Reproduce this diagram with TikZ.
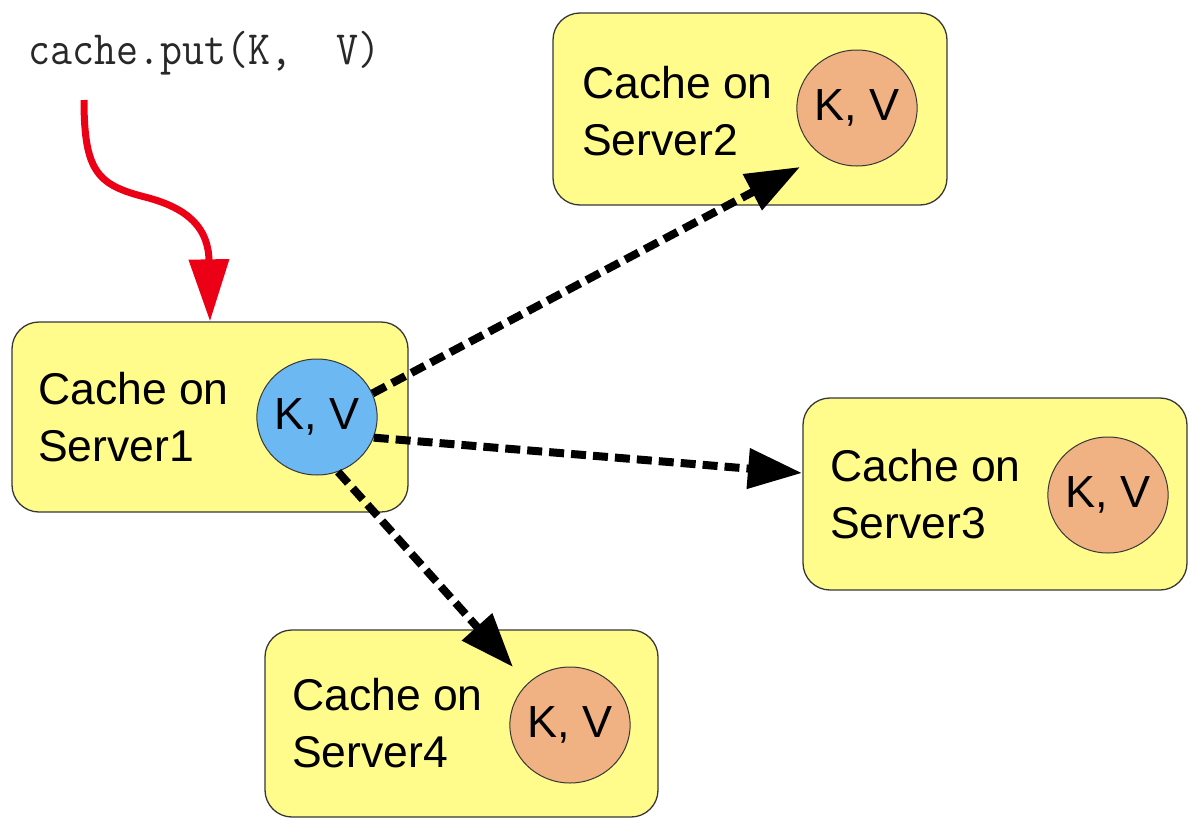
\documentclass[tikz,border=0pt]{standalone}
\usepackage{fontspec}
\setmainfont{Liberation Sans}
\usetikzlibrary{arrows.meta,shapes.geometric}
\definecolor{boxyellow}{RGB}{255,252,140}
\definecolor{kvblue}{RGB}{108,184,242}
\definecolor{kvorange}{RGB}{240,178,130}
\definecolor{putred}{RGB}{236,0,22}
\definecolor{edgegray}{RGB}{55,55,55}
\definecolor{monogray}{RGB}{40,40,40}
\begin{document}
\begin{tikzpicture}[x=1pt,y=-1pt,
  server/.style={draw=edgegray, line width=1.3pt, fill=boxyellow, rounded corners=27pt, inner sep=0pt},
  servertext/.style={anchor=west, align=left, inner sep=0pt, font=\fontsize{44.5}{57}\selectfont},
  kvnode/.style={ellipse, draw=edgegray, line width=1pt, minimum width=108pt, minimum height=116pt, inner sep=0pt, font=\fontsize{45}{54}\selectfont},
  replarrow/.style={draw=black, line width=8pt, dash pattern=on 15pt off 7pt, -{Triangle[length=54pt,width=39pt]}},
  putarrow/.style={draw=putred, line width=7pt, -{Triangle[length=62pt,width=39pt]}}
]
\useasboundingbox (0,0) rectangle (1189,819);

% code text
\node[anchor=base west, inner sep=0pt, text=monogray, font=\ttfamily\fontsize{42.7}{46}\selectfont] (put) at (28,64) {\scalebox{1}[1.12]{cache.put(K,\ \ V)}};

% server boxes
\node[server, minimum width=396pt, minimum height=190pt] (s1) at (210,417) {};
\node[server, minimum width=394pt, minimum height=192pt] (s2) at (750,109) {};
\node[server, minimum width=384pt, minimum height=192pt] (s3) at (995,494) {};
\node[server, minimum width=393pt, minimum height=187pt] (s4) at (461.5,723.5) {};

% labels
\node[servertext] (l1) at (38,417) {Cache on\\Server1};
\node[servertext] (l2) at (582,111) {Cache on\\Server2};
\node[servertext] (l3) at (830,494) {Cache on\\Server3};
\node[servertext] (l4) at (292,723) {Cache on\\Server4};

% K,V circles
\node[kvnode, fill=kvblue] (c1) at (317,417) {K, V};
\node[kvnode, fill=kvorange] (c2) at (857,108) {K, V};
\node[kvnode, fill=kvorange] (c3) at (1108,495) {K, V};
\node[kvnode, fill=kvorange] (c4) at (570,725) {K, V};

% arrow ends
\coordinate (r0) at (84,100);
\coordinate (t2) at (800,167);
\coordinate (t3) at (802,473);
\coordinate (t4) at (513,667);

% red put arrow
\draw[putarrow] (r0) .. controls (84,172) and (98,185) .. (145,197)
  .. controls (188,208) and (209,228) .. (209,262) -- (s1.north);

% replication arrows
\draw[replarrow] (c1.23) -- (t2);
\draw[replarrow] (c1.-20) -- (t3);
\draw[replarrow] (c1.-69) -- (t4);
\end{tikzpicture}
\end{document}
